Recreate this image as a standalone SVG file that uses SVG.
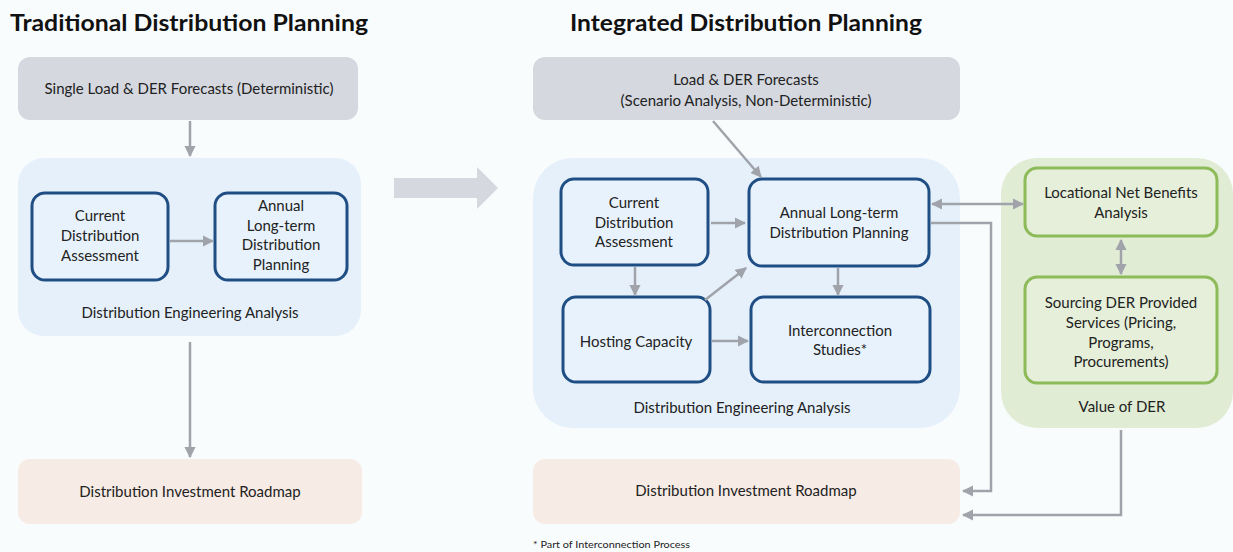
<svg xmlns="http://www.w3.org/2000/svg" width="1233" height="552" viewBox="0 0 1233 552">
<defs>
<marker id="ah" viewBox="0 0 10 10" refX="9" refY="5" markerWidth="4.5" markerHeight="4.5" orient="auto-start-reverse">
<path d="M0,0 L10,5 L0,10 z" fill="#a0a4aa"/>
</marker>
</defs>
<style>
text{font-family:Lato,"Liberation Sans",sans-serif;fill:#222;font-size:15px;text-anchor:middle}
.title{font-weight:bold;font-size:23px;text-anchor:start;fill:#111}
.fc{fill:#d5d8df}
.panel{fill:#e5f0fb}
.nb{fill:#e8f2fc;stroke:#1f4e84;stroke-width:3}
.gp{fill:#e1ecd5}
.gb{fill:#e5efd9;stroke:#8dbb5a;stroke-width:3}
.rm{fill:#f7ebe5}
.c{fill:none;stroke:#a0a4aa;stroke-width:2.5}
.foot{font-size:10px;text-anchor:start}
</style>
<rect width="1233" height="552" fill="#f9fcfd"/>
<text class="title" x="10" y="31" textLength="358" lengthAdjust="spacingAndGlyphs">Traditional Distribution Planning</text>
<text class="title" x="570" y="31" textLength="352" lengthAdjust="spacingAndGlyphs">Integrated Distribution Planning</text>

<g id="t-forecast"><rect class="fc" x="18" y="57" width="340" height="63" rx="12"/><text x="189" y="94">Single Load &amp; DER Forecasts (Deterministic)</text></g>
<g id="t-dea"><rect class="panel" x="18" y="158" width="343" height="178" rx="26"/><text x="190" y="318">Distribution Engineering Analysis</text></g>
<g id="t-cda"><rect class="nb" x="32" y="193" width="136" height="87" rx="13"/><text x="100" y="221">Current</text><text x="100" y="241">Distribution</text><text x="100" y="261">Assessment</text></g>
<g id="t-annual"><rect class="nb" x="215" y="193" width="132" height="87" rx="13"/><text x="281" y="211">Annual</text><text x="281" y="231">Long-term</text><text x="281" y="250">Distribution</text><text x="281" y="270">Planning</text></g>
<g id="t-roadmap"><rect class="rm" x="18" y="459" width="344" height="65" rx="12"/><text x="190" y="497">Distribution Investment Roadmap</text></g>

<g id="big-arrow"><path d="M394,178 L477,178 L477,167 L498,188 L477,209 L477,198 L394,198 z" fill="#d5d8df"/></g>

<g id="i-forecast"><rect class="fc" x="533" y="57" width="427" height="63" rx="12"/><text x="746" y="85">Load &amp; DER Forecasts</text><text x="746" y="106">(Scenario Analysis, Non-Deterministic)</text></g>
<g id="i-dea"><rect class="panel" x="533" y="158" width="427" height="270" rx="40"/><text x="742" y="413">Distribution Engineering Analysis</text></g>
<g id="i-cda"><rect class="nb" x="561" y="179" width="147" height="86" rx="13"/><text x="634" y="208">Current</text><text x="634" y="228">Distribution</text><text x="634" y="247">Assessment</text></g>
<g id="i-annual"><rect class="nb" x="749" y="179" width="180" height="87" rx="13"/><text x="839" y="218">Annual Long-term</text><text x="839" y="238">Distribution Planning</text></g>
<g id="i-hosting"><rect class="nb" x="563" y="297" width="147" height="85" rx="13"/><text x="636" y="347">Hosting Capacity</text></g>
<g id="i-inter"><rect class="nb" x="751" y="297" width="179" height="85" rx="13"/><text x="840" y="336">Interconnection</text><text x="840" y="355">Studies*</text></g>
<g id="i-value"><rect class="gp" x="1001" y="158" width="232" height="270" rx="36"/><text x="1122" y="412">Value of DER</text></g>
<g id="i-lnb"><rect class="gb" x="1025" y="168" width="192" height="68" rx="12"/><text x="1121" y="198">Locational Net Benefits</text><text x="1121" y="218">Analysis</text></g>
<g id="i-sourcing"><rect class="gb" x="1025" y="277" width="192" height="106" rx="12"/><text x="1121" y="308">Sourcing DER Provided</text><text x="1121" y="328">Services (Pricing,</text><text x="1121" y="348">Programs,</text><text x="1121" y="367">Procurements)</text></g>
<g id="i-roadmap"><rect class="rm" x="533" y="459" width="427" height="65" rx="12"/><text x="746" y="496">Distribution Investment Roadmap</text></g>

<g id="connectors">
<line class="c" x1="190" y1="121" x2="190" y2="156" marker-end="url(#ah)"/>
<line class="c" x1="170" y1="241" x2="213" y2="241" marker-end="url(#ah)"/>
<line class="c" x1="190" y1="342" x2="190" y2="457" marker-end="url(#ah)"/>
<line class="c" x1="713" y1="121" x2="761" y2="177" marker-end="url(#ah)"/>
<line class="c" x1="711" y1="223" x2="745" y2="223" marker-end="url(#ah)"/>
<line class="c" x1="635" y1="267" x2="635" y2="295" marker-end="url(#ah)"/>
<line class="c" x1="705" y1="300" x2="746" y2="268" marker-end="url(#ah)"/>
<line class="c" x1="838" y1="268" x2="838" y2="295" marker-end="url(#ah)"/>
<line class="c" x1="712" y1="341" x2="748" y2="341" marker-end="url(#ah)"/>
<line class="c" x1="932" y1="204" x2="1023" y2="204" marker-start="url(#ah)" marker-end="url(#ah)"/>
<line class="c" x1="1121" y1="240" x2="1121" y2="274" marker-start="url(#ah)" marker-end="url(#ah)"/>
<polyline class="c" points="931,223 991,223 991,491 963,491" marker-end="url(#ah)"/>
<polyline class="c" points="1121,430 1121,515 963,515" marker-end="url(#ah)"/>
</g>
<text class="foot" x="533" y="548" textLength="157" lengthAdjust="spacingAndGlyphs">* Part of Interconnection Process</text>
</svg>
